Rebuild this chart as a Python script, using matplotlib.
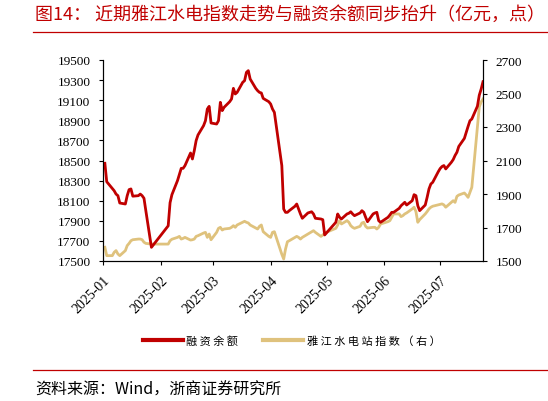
import matplotlib
matplotlib.use("Agg")
import matplotlib.pyplot as plt
import matplotlib.dates as mdates
from matplotlib.lines import Line2D
import pandas as pd

# ---------------- data ----------------
start_date = "2025-01-02"
end_date = "2025-07-24"
holidays = ["2025-01-28", "2025-01-29", "2025-01-30", "2025-01-31", "2025-02-03",
            "2025-02-04", "2025-04-04", "2025-05-01", "2025-05-02", "2025-05-05",
            "2025-06-02"]

# 融资余额 (亿元), left axis
margin_jan = [18472, 18289, 18222, 18199, 18166, 18150, 18077, 18067, 18150, 18210,
              18217, 18145, 18150, 18166, 18150, 18124, 18000, 17636]
margin_feb = [17850, 18080, 18160, 18300, 18360, 18422, 18422, 18449, 18575, 18515,
              18598, 18698, 18754, 18847, 18896, 19012, 19039, 18873]
margin_mar = [18863, 18896, 19079, 18996, 19029, 19085, 19112, 19218, 19162, 19178,
              19278, 19294, 19377, 19394, 19311, 19218, 19195, 19178, 19172, 19118, 19085]
margin_apr = [19062, 19012, 18979, 18449, 18017, 17984, 17984, 18001, 18044, 18067,
              18017, 17968, 17925, 17978, 17984, 17990, 17968, 17925, 17918, 17911, 17759]
margin_may = [17885, 17968, 17935, 17918, 17968, 17975, 17990, 17968, 17951, 17978,
              18001, 17984, 17935, 17891, 17968, 17978, 17984, 17901, 17885]
margin_jun = [17935, 17958, 17984, 17984, 18024, 18050, 18067, 18084, 18057, 18100,
              18160, 18150, 18050, 18001, 18057, 18133, 18217, 18266, 18283, 18389]
margin_jul = [18420, 18440, 18450, 18416, 18482, 18509, 18550, 18582, 18640, 18720,
              18781, 18840, 18896, 18913, 19040, 19150, 19210, 19284]

# 雅江水电站指数 (点), right axis
index_jan = [1582, 1532, 1532, 1552, 1562, 1542, 1532, 1562, 1592, 1605,
             1621, 1627, 1631, 1631, 1627, 1612, 1605, 1601]
index_feb = [1601, 1621, 1630, 1641, 1647, 1631, 1635, 1641, 1625, 1627,
             1631, 1647, 1651, 1667, 1671, 1641, 1661, 1627]
index_mar = [1671, 1695, 1701, 1685, 1691, 1695, 1701, 1711, 1701, 1715,
             1731, 1737, 1731, 1727, 1715, 1697, 1691, 1707, 1715, 1675, 1647]
index_apr = [1641, 1671, 1675, 1540, 1512, 1572, 1615, 1621, 1641, 1647,
             1641, 1631, 1641, 1661, 1667, 1675, 1681, 1671, 1647, 1655, 1667]
index_may = [1695, 1715, 1741, 1721, 1741, 1731, 1711, 1701, 1695, 1707,
             1727, 1731, 1707, 1697, 1701, 1701, 1691, 1701, 1721]
index_jun = [1735, 1741, 1761, 1781, 1781, 1765, 1771, 1781, 1787, 1811,
             1821, 1795, 1731, 1747, 1781, 1795, 1811, 1821, 1827, 1835]
index_jul = [1837, 1841, 1835, 1821, 1850, 1860, 1850, 1886, 1894, 1906,
             1894, 1880, 1910, 1940, 2300, 2420, 2450, 2467]

left_ticks = [17500, 17700, 17900, 18100, 18300, 18500, 18700, 18900, 19100, 19300, 19500]
right_ticks = [1500, 1700, 1900, 2100, 2300, 2500, 2700]

title_text = "图14： 近期雅江水电指数走势与融资余额同步抬升（亿元，点）"
source_text = "资料来源：Wind，浙商证券研究所"
label_margin = "融资余额"
label_index = "雅江水电站指数（右）"

# ---------------- build ----------------
dates = pd.bdate_range(start_date, end_date, freq="C", holidays=holidays)
margin = margin_jan + margin_feb + margin_mar + margin_apr + margin_may + margin_jun + margin_jul
index_v = index_jan + index_feb + index_mar + index_apr + index_may + index_jun + index_jul

RED = "#C00000"
GOLD = "#DFC27D"
CJK = ["Noto Sans CJK SC", "DejaVu Sans"]
SERIF = "Liberation Serif"

W, H = 548, 402
fig = plt.figure(figsize=(W / 100, H / 100), dpi=100)

ax_l, ax_r, ax_t, ax_b = 103, 483, 61, 262
ax = fig.add_axes([ax_l / W, 1 - ax_b / H, (ax_r - ax_l) / W, (ax_b - ax_t) / H])
ax2 = ax.twinx()
ax.set_zorder(ax2.get_zorder() + 1)
ax.patch.set_visible(False)

ax2.plot(dates, index_v, color=GOLD, lw=2.0, solid_joinstyle="round")
ax.plot(dates, margin, color=RED, lw=2.0, solid_joinstyle="round")

ax.set_xlim(pd.Timestamp("2025-01-01"), pd.Timestamp(end_date))
ax.set_ylim(left_ticks[0], left_ticks[-1])
ax2.set_ylim(right_ticks[0], right_ticks[-1])
ax.set_yticks(left_ticks)
ax2.set_yticks(right_ticks)

ax.xaxis.set_major_locator(mdates.MonthLocator())
ax.xaxis.set_major_formatter(mdates.DateFormatter("%Y-%m"))

for a in (ax, ax2):
    a.spines["top"].set_visible(False)
    for s in ("left", "right", "bottom"):
        a.spines[s].set_linewidth(0.8)
        a.spines[s].set_color("black")

ax.tick_params(axis="y", direction="out", length=3, width=0.8, pad=6, labelsize=9.5)
ax2.tick_params(axis="y", direction="out", length=3, width=0.8, pad=6, labelsize=9.5)
ax.tick_params(axis="x", direction="out", length=3, width=0.8, pad=6, labelsize=10)

for lab in ax.get_yticklabels() + ax2.get_yticklabels():
    lab.set_fontfamily(SERIF)
for lab in ax.get_xticklabels():
    lab.set_fontfamily(SERIF)
    lab.set_rotation(45)
    lab.set_ha("right")
    lab.set_va("top")
    lab.set_rotation_mode("anchor")

# title + rules
fig.text(35 / W, 1 - 15 / H, title_text, color=RED, fontsize=13,
         family=CJK, ha="left", va="center")
fig.add_artist(Line2D([33 / W, 1.0], [1 - 33 / H, 1 - 33 / H], color=RED, lw=0.9,
                      transform=fig.transFigure))
fig.add_artist(Line2D([33 / W, 1.0], [1 - 371 / H, 1 - 371 / H], color=RED, lw=0.9,
                      transform=fig.transFigure))
fig.text(35 / W, 1 - 390 / H, source_text, color="black", fontsize=11.5,
         family=CJK, ha="left", va="center")

# legend
handles = [Line2D([], [], color=RED, lw=3), Line2D([], [], color=GOLD, lw=3)]
labels = [" ".join(label_margin), " ".join(label_index)]
fig.legend(handles, labels, loc="center", bbox_to_anchor=(291.5 / W, 1 - 342 / H),
           ncol=2, frameon=False, handlelength=3.6, handletextpad=0.35,
           columnspacing=2.2, prop={"family": CJK, "size": 8})

fig.savefig("out.png", dpi=100)
